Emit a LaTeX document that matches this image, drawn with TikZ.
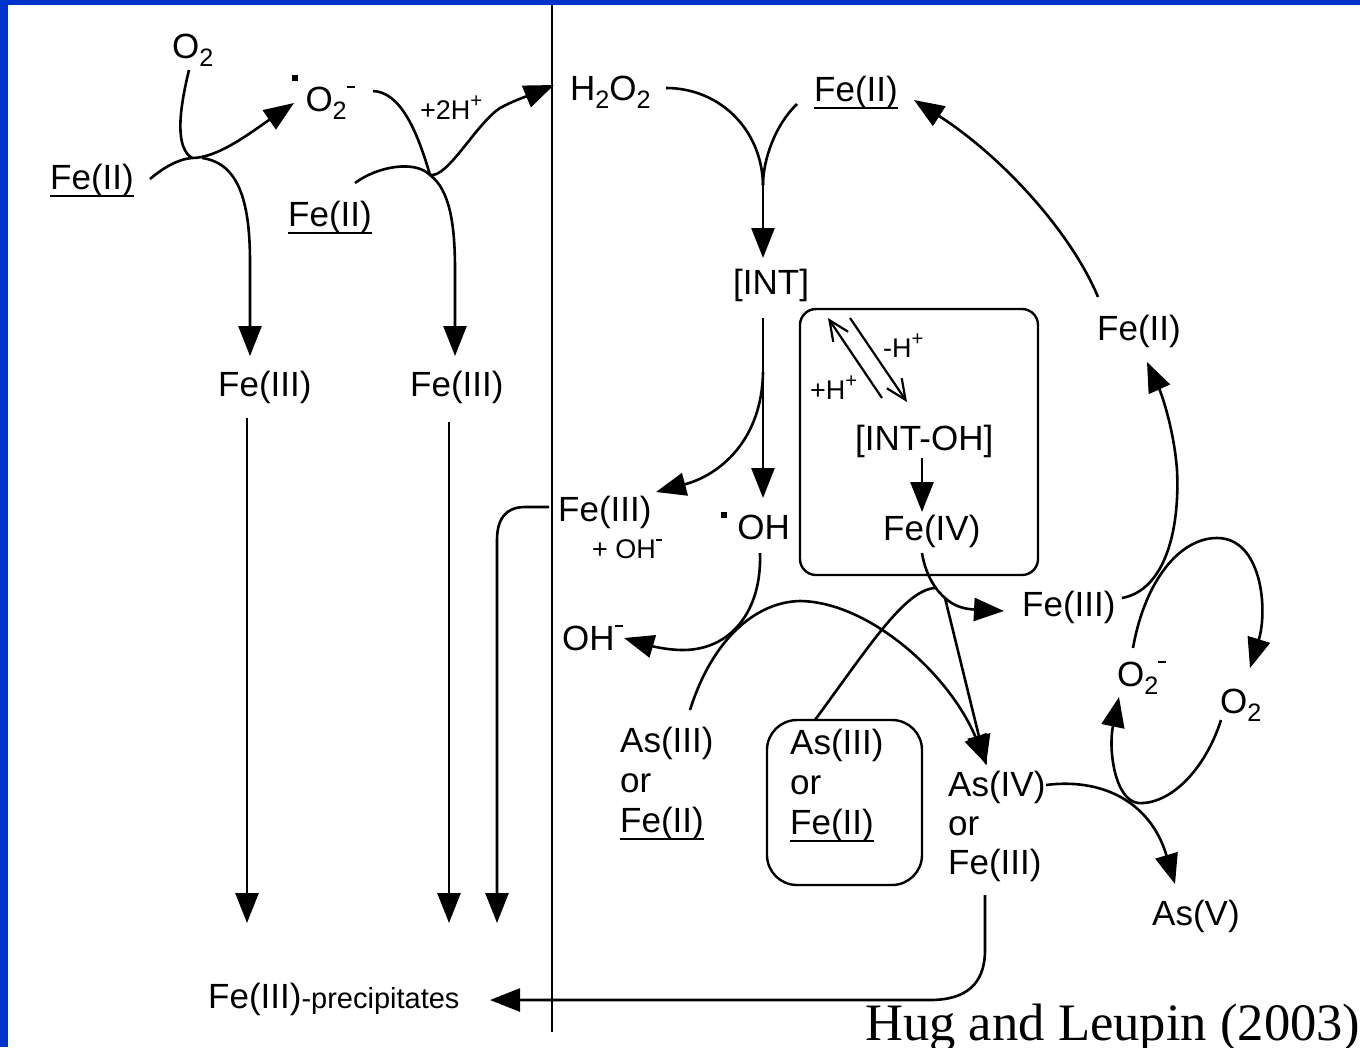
\documentclass[tikz,border=0pt]{standalone}
\usepackage{fontspec}
\usepackage{graphicx}
\setmainfont{Liberation Sans}
\newfontfamily\timesf{Liberation Serif}
\usetikzlibrary{arrows.meta}
\definecolor{frameblue}{RGB}{0,51,204}
\newcommand\ulfe[1]{\setbox0\hbox{#1}\rlap{\rule[-0.22em]{\wd0}{2.2pt}}\box0}
\newcommand\rdot[1]{\rule[#1]{0.16em}{0.16em}}
\newcommand\sbs[1]{\raisebox{-0.24em}{\scalebox{0.72}{#1}}}
\newcommand\sps[1]{\raisebox{0.42em}{\scalebox{0.75}{#1}}}
\newcommand\minus{\rule[0.3em]{0.3em}{0.075em}}
\begin{document}
\begin{tikzpicture}[x=1pt,y=-1pt,
  lbl/.style={inner sep=0pt, anchor=base west, font=\fontsize{35}{40}\selectfont},
  sml/.style={inner sep=0pt, anchor=base west, font=\fontsize{27}{30}\selectfont},
  con/.style={line width=2.6pt},
  arr/.style={con,-{Triangle[length=30pt,width=23pt]}},
  harp/.style={line width=2.2pt,-{Straight Barb[length=20pt,width=18pt,line width=2.2pt]}},
  rbox/.style={draw,line width=2.4pt}
]
\useasboundingbox (0,0) rectangle (1360,1047);
\fill[white] (0,0) rectangle (1360,1047);
\fill[frameblue] (0,0) rectangle (1360,5);
\fill[frameblue] (0,0) rectangle (8,1047);

% divider
\draw[line width=2pt] (552,5) -- (552,1032);

% ---------- left panel nodes
\node[lbl] (o2a) at (172,58) {O\sbs{2}};
\node[lbl] (fe2a) at (50,189) {\ulfe{Fe(II)}};
\node[lbl] (sup) at (292,111) {\rdot{0.86em}\hspace{0.22em}O\sbs{2}\sps{\minus}};
\node[sml] (h2) at (420,119) {+2H\sps{+}};
\node[lbl] (fe2b) at (288,226) {\ulfe{Fe(II)}};
\node[lbl] (fe3a) at (218,396) {Fe(III)};
\node[lbl] (fe3b) at (410,396) {Fe(III)};
\node[lbl] (prec) at (208,1008) {Fe(III)\fontsize{29}{30}\selectfont-precipitates};

% ---------- right panel nodes
\node[lbl] (h2o2) at (570,100) {H\sbs{2}O\sbs{2}};
\node[lbl] (fe2c) at (814,101) {\ulfe{Fe(II)}};
\node[lbl] (int) at (733,294) {[INT]};
\node[lbl] (fe2d) at (1097,340) {Fe(II)};
\node[sml] (mH) at (883,357) {-H\sps{+}};
\node[sml] (pH) at (810,399) {+H\sps{+}};
\node[lbl] (intoh) at (855,450) {[INT-OH]};
\node[lbl] (fe4) at (883,540) {Fe(IV)};
\node[lbl] (fe3c) at (558,521) {Fe(III)};
\node[sml] (ohm1) at (592,558) {+ OH\sps{\minus}};
\node[lbl] (oh) at (721,539) {\rdot{0.6em}\hspace{0.3em}OH};
\node[lbl] (ohm2) at (562,650) {OH\sps{\minus}};
\node[lbl] (fe3d) at (1022,616) {Fe(III)};
\node[lbl] (o2m) at (1117,686) {O\sbs{2}\sps{\minus}};
\node[lbl] (o2b) at (1220,713) {O\sbs{2}};
\node[lbl] (as3a) at (620,752) {As(III)};
\node[lbl] (ora) at (620,792) {or};
\node[lbl] (fe2e) at (620,832) {\ulfe{Fe(II)}};
\node[lbl] (as3b) at (790,754) {As(III)};
\node[lbl] (orb) at (790,794) {or};
\node[lbl] (fe2f) at (790,834) {\ulfe{Fe(II)}};
\node[lbl] (as4) at (948,796) {As(IV)};
\node[lbl] (orc) at (948,835) {or};
\node[lbl] (fe3e) at (948,874) {Fe(III)};
\node[lbl] (as5) at (1152,925) {As(V)};
\node[inner sep=0pt, anchor=base west, font=\timesf\fontsize{52.6}{60}\selectfont] (cite) at (865,1040) {Hug and Leupin (2003)};

% boxes
\draw[rbox, rounded corners=16pt] (800,309) rectangle (1038,575);
\draw[rbox, rounded corners=30pt] (767,720) rectangle (922,885);

% ---------- junction coordinates
\coordinate (j1) at (192,158);
\coordinate (j2) at (430,175);
\coordinate (j3) at (763,185);
\coordinate (j4) at (945,598);

% ---------- left connectors
\draw[con] (189,70) .. controls (178,115) and (176,148) .. (j1);
\draw[arr] (150,179) .. controls (163,168) and (178,159) .. (j1) .. controls (218,158) and (250,133) .. (294,103);
\draw[arr] (202,158) .. controls (238,163) and (250,200) .. (250,262) -- (250,356);
\draw[con] (373,91) .. controls (400,92) and (417,130) .. (j2);
\draw[arr] (j2) .. controls (448,178) and (475,125) .. (500,108) .. controls (515,100) and (530,95) .. (554,85);
\draw[con] (355,183) .. controls (378,166) and (415,160) .. (j2);
\draw[arr] (j2) .. controls (450,190) and (455,225) .. (455,270) -- (455,356);
\draw[arr] (247,418) -- (247,923);
\draw[arr] (449,422) -- (449,923);
\draw[arr] (549,507) -- (525,507) .. controls (505,507) and (497,520) .. (497,540) -- (497,923);
\draw[arr] (985,895) -- (985,950) .. controls (985,985) and (965,1000) .. (930,1000) -- (490,1000);

% ---------- right connectors
\draw[con] (666,88) .. controls (720,88) and (762,130) .. (j3);
\draw[con] (797,104) .. controls (775,125) and (763,160) .. (j3);
\draw[arr] (j3) -- (763,258);
\draw[arr] (1098,297) .. controls (1070,230) and (1000,155) .. (914,100);
\draw[arr] (763,318) -- (763,498);
\draw[arr] (763,372) .. controls (762,440) and (720,475) .. (656,492);
\draw[harp] (882,398) -- (828,318);
\draw[harp] (850,318) -- (907,402);
\draw[arr] (922,458) -- (922,512);
\draw[arr] (760,553) .. controls (762,612) and (730,650) .. (683,650) .. controls (665,650) and (648,645) .. (624,638);
\draw[arr] (690,710) .. controls (712,640) and (755,602) .. (800,601) .. controls (870,602) and (950,675) .. (987,765);
\draw[con] (922,553) .. controls (926,578) and (938,592) .. (j4);
\draw[arr] (j4) -- (986,765);
\draw[arr] (j4) .. controls (955,607) and (965,609) .. (1004,611);
\draw[con] (815,720) .. controls (870,645) and (905,590) .. (935,588);
\draw[arr] (1122,598) .. controls (1165,590) and (1180,530) .. (1177,470) .. controls (1174,430) and (1162,395) .. (1147,362);
\draw[arr] (1133,648) .. controls (1145,580) and (1180,538) .. (1217,538) .. controls (1262,538) and (1268,610) .. (1250,668);
\draw[arr] (1221,720) .. controls (1205,770) and (1170,805) .. (1138,803) .. controls (1115,800) and (1108,750) .. (1119,697);
\draw[arr] (1046,785) .. controls (1100,778) and (1150,800) .. (1175,884);
\end{tikzpicture}
\end{document}
